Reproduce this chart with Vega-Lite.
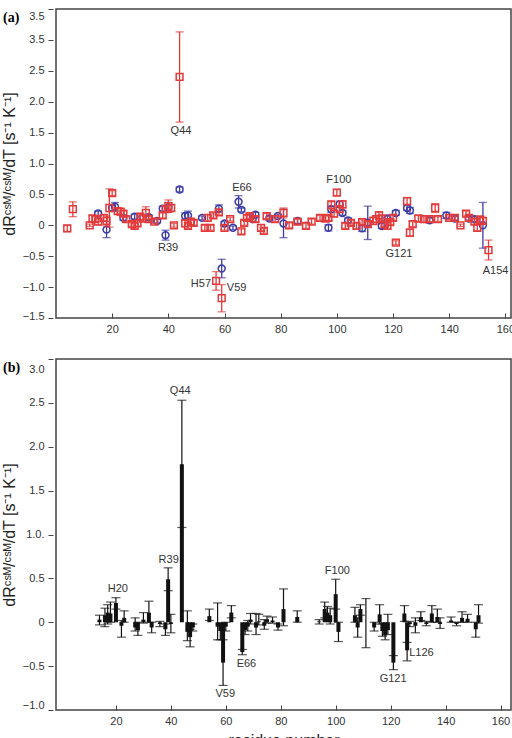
{
  "$schema": "https://vega.github.io/schema/vega-lite/v6.json",
  "autosize": {"type": "pad"},
  "padding": {"left": 0, "top": 7, "right": 4, "bottom": 0},
  "background": "white",
  "spacing": 41,
  "bounds": "flush",
  "config": {
    "view": {"stroke": "#444", "strokeWidth": 1.5},
    "font": "Liberation Sans",
    "axis": {
      "labelFont": "Liberation Sans",
      "labelFontSize": 11,
      "labelColor": "#333",
      "domain": false,
      "grid": false,
      "tickColor": "#444",
      "tickWidth": 1,
      "titleFont": "Liberation Sans",
      "titleFontWeight": "normal",
      "titleColor": "#222"
    },
    "text": {"font": "Liberation Sans", "fontSize": 11, "color": "#333", "baseline": "middle", "align": "center"}
  },
  "datasets": {
    "a_red": [
      {"residue": 4, "dR": -0.05, "err": 0.05},
      {"residue": 6, "dR": 0.26, "err": 0.12},
      {"residue": 12, "dR": 0.0, "err": 0.02},
      {"residue": 13, "dR": 0.11, "err": 0.05},
      {"residue": 14, "dR": 0.1, "err": 0.04},
      {"residue": 15, "dR": 0.06, "err": 0.05},
      {"residue": 17, "dR": 0.12, "err": 0.05},
      {"residue": 18, "dR": 0.07, "err": 0.08},
      {"residue": 19, "dR": 0.28, "err": 0.31},
      {"residue": 20, "dR": 0.52, "err": 0.04},
      {"residue": 22, "dR": 0.23, "err": 0.05},
      {"residue": 23, "dR": 0.22, "err": 0.05},
      {"residue": 24, "dR": 0.19, "err": 0.04},
      {"residue": 25, "dR": 0.1, "err": 0.04},
      {"residue": 27, "dR": 0.02, "err": 0.04},
      {"residue": 28, "dR": -0.01, "err": 0.04},
      {"residue": 29, "dR": 0.03, "err": 0.04},
      {"residue": 30, "dR": 0.14, "err": 0.05},
      {"residue": 31, "dR": 0.11, "err": 0.05},
      {"residue": 32, "dR": 0.2, "err": 0.1},
      {"residue": 33, "dR": 0.1, "err": 0.05},
      {"residue": 35, "dR": 0.06, "err": 0.03},
      {"residue": 38, "dR": 0.16, "err": 0.04},
      {"residue": 39, "dR": 0.26, "err": 0.05},
      {"residue": 40, "dR": 0.31, "err": 0.1},
      {"residue": 41, "dR": 0.28, "err": 0.05},
      {"residue": 42, "dR": 0.0, "err": 0.03},
      {"residue": 44, "dR": 2.4, "err": 0.73},
      {"residue": 46, "dR": 0.03, "err": 0.05},
      {"residue": 47, "dR": -0.01, "err": 0.04},
      {"residue": 48, "dR": 0.06, "err": 0.05},
      {"residue": 49, "dR": 0.04, "err": 0.04},
      {"residue": 53, "dR": -0.04, "err": 0.04},
      {"residue": 54, "dR": 0.12, "err": 0.05},
      {"residue": 55, "dR": -0.04, "err": 0.04},
      {"residue": 56, "dR": 0.16, "err": 0.04},
      {"residue": 57, "dR": -0.9, "err": 0.15},
      {"residue": 58, "dR": 0.21, "err": 0.04},
      {"residue": 59, "dR": -1.18, "err": 0.22},
      {"residue": 60, "dR": -0.04, "err": 0.04},
      {"residue": 62, "dR": 0.1, "err": 0.03},
      {"residue": 66, "dR": -0.1, "err": 0.04},
      {"residue": 67, "dR": 0.04, "err": 0.04},
      {"residue": 68, "dR": 0.12, "err": 0.04},
      {"residue": 69, "dR": 0.15, "err": 0.05},
      {"residue": 71, "dR": 0.1, "err": 0.04},
      {"residue": 73, "dR": -0.04, "err": 0.05},
      {"residue": 74, "dR": -0.09, "err": 0.04},
      {"residue": 75, "dR": 0.15, "err": 0.04},
      {"residue": 78, "dR": 0.1, "err": 0.04},
      {"residue": 81, "dR": 0.2, "err": 0.08},
      {"residue": 83, "dR": 0.0, "err": 0.04},
      {"residue": 86, "dR": 0.06, "err": 0.04},
      {"residue": 89, "dR": -0.01, "err": 0.04},
      {"residue": 91, "dR": 0.06, "err": 0.04},
      {"residue": 94, "dR": 0.12, "err": 0.04},
      {"residue": 96, "dR": 0.11, "err": 0.04},
      {"residue": 97, "dR": 0.12, "err": 0.04},
      {"residue": 98, "dR": 0.33, "err": 0.07},
      {"residue": 99, "dR": 0.19, "err": 0.05},
      {"residue": 100, "dR": 0.53, "err": 0.05},
      {"residue": 101, "dR": 0.26, "err": 0.05},
      {"residue": 102, "dR": 0.34, "err": 0.06},
      {"residue": 103, "dR": -0.01, "err": 0.04},
      {"residue": 105, "dR": 0.04, "err": 0.04},
      {"residue": 107, "dR": -0.01, "err": 0.04},
      {"residue": 109, "dR": 0.05, "err": 0.04},
      {"residue": 111, "dR": 0.02, "err": 0.04},
      {"residue": 113, "dR": 0.07, "err": 0.06},
      {"residue": 114, "dR": 0.1, "err": 0.05},
      {"residue": 115, "dR": 0.16, "err": 0.06},
      {"residue": 116, "dR": 0.11, "err": 0.05},
      {"residue": 117, "dR": 0.02, "err": 0.04},
      {"residue": 118, "dR": -0.01, "err": 0.05},
      {"residue": 119, "dR": 0.05, "err": 0.04},
      {"residue": 120, "dR": 0.12, "err": 0.04},
      {"residue": 121, "dR": -0.28, "err": 0.03},
      {"residue": 125, "dR": 0.39, "err": 0.06},
      {"residue": 126, "dR": -0.12, "err": 0.06},
      {"residue": 127, "dR": 0.02, "err": 0.04},
      {"residue": 129, "dR": 0.11, "err": 0.05},
      {"residue": 131, "dR": 0.1, "err": 0.05},
      {"residue": 133, "dR": 0.1, "err": 0.04},
      {"residue": 135, "dR": 0.28, "err": 0.07},
      {"residue": 136, "dR": 0.1, "err": 0.04},
      {"residue": 140, "dR": 0.12, "err": 0.03},
      {"residue": 142, "dR": 0.12, "err": 0.03},
      {"residue": 144, "dR": 0.0, "err": 0.02},
      {"residue": 146, "dR": 0.19, "err": 0.04},
      {"residue": 147, "dR": 0.12, "err": 0.04},
      {"residue": 149, "dR": 0.06, "err": 0.04},
      {"residue": 150, "dR": -0.04, "err": 0.05},
      {"residue": 151, "dR": 0.09, "err": 0.06},
      {"residue": 152, "dR": 0.07, "err": 0.05},
      {"residue": 154, "dR": -0.4, "err": 0.16}
    ],
    "a_blue": [
      {"residue": 15, "dR": 0.19, "err": 0.04},
      {"residue": 18, "dR": -0.07, "err": 0.13},
      {"residue": 20, "dR": 0.28, "err": 0.05},
      {"residue": 21, "dR": 0.3, "err": 0.07},
      {"residue": 24, "dR": 0.12, "err": 0.04},
      {"residue": 28, "dR": 0.14, "err": 0.04},
      {"residue": 33, "dR": 0.13, "err": 0.04},
      {"residue": 36, "dR": 0.07, "err": 0.03},
      {"residue": 38, "dR": 0.27, "err": 0.04},
      {"residue": 39, "dR": -0.16, "err": 0.08},
      {"residue": 40, "dR": 0.29, "err": 0.08},
      {"residue": 44, "dR": 0.58, "err": 0.04},
      {"residue": 46, "dR": 0.15, "err": 0.05},
      {"residue": 47, "dR": 0.16, "err": 0.07},
      {"residue": 52, "dR": 0.12, "err": 0.03},
      {"residue": 58, "dR": 0.27, "err": 0.06},
      {"residue": 59, "dR": -0.7, "err": 0.15},
      {"residue": 60, "dR": 0.03, "err": 0.03},
      {"residue": 63, "dR": -0.04, "err": 0.03},
      {"residue": 65, "dR": 0.38, "err": 0.1},
      {"residue": 66, "dR": 0.25, "err": 0.03},
      {"residue": 70, "dR": 0.1, "err": 0.04},
      {"residue": 71, "dR": 0.17, "err": 0.04},
      {"residue": 76, "dR": 0.11, "err": 0.03},
      {"residue": 79, "dR": 0.15, "err": 0.03},
      {"residue": 81, "dR": 0.03, "err": 0.23},
      {"residue": 86, "dR": 0.07, "err": 0.04},
      {"residue": 97, "dR": -0.04, "err": 0.05},
      {"residue": 98, "dR": 0.26, "err": 0.05},
      {"residue": 101, "dR": 0.34, "err": 0.05},
      {"residue": 102, "dR": 0.2, "err": 0.04},
      {"residue": 104, "dR": 0.08, "err": 0.04},
      {"residue": 109, "dR": -0.05, "err": 0.05},
      {"residue": 111, "dR": 0.04, "err": 0.27},
      {"residue": 116, "dR": -0.01, "err": 0.04},
      {"residue": 118, "dR": 0.11, "err": 0.04},
      {"residue": 121, "dR": 0.2, "err": 0.04},
      {"residue": 125, "dR": 0.28, "err": 0.04},
      {"residue": 126, "dR": 0.24, "err": 0.05},
      {"residue": 133, "dR": 0.08, "err": 0.04},
      {"residue": 139, "dR": 0.16, "err": 0.05},
      {"residue": 142, "dR": 0.11, "err": 0.03},
      {"residue": 147, "dR": 0.11, "err": 0.03},
      {"residue": 149, "dR": 0.1, "err": 0.04},
      {"residue": 152, "dR": 0.0, "err": 0.37}
    ],
    "a_labels": [
      {"residue": 44.5, "dR": 1.52, "label": "Q44"},
      {"residue": 39.9, "dR": -0.37, "label": "R39"},
      {"residue": 66.2, "dR": 0.61, "label": "E66"},
      {"residue": 51.6, "dR": -0.95, "label": "H57"},
      {"residue": 64.3, "dR": -1.01, "label": "V59"},
      {"residue": 100.7, "dR": 0.73, "label": "F100"},
      {"residue": 122.1, "dR": -0.47, "label": "G121"},
      {"residue": 156.5, "dR": -0.74, "label": "A154"}
    ],
    "b_bars": [
      {"residue": 14, "dR": 0.03, "lo": -0.03, "hi": 0.08},
      {"residue": 16, "dR": 0.08, "lo": -0.05, "hi": 0.16},
      {"residue": 17, "dR": 0.11, "lo": -0.02, "hi": 0.2},
      {"residue": 18, "dR": 0.1, "lo": 0.0, "hi": 0.23},
      {"residue": 20, "dR": 0.22, "lo": 0.15, "hi": 0.28},
      {"residue": 22, "dR": -0.04, "lo": -0.17, "hi": 0.02},
      {"residue": 23, "dR": 0.05, "lo": 0.0, "hi": 0.13},
      {"residue": 27, "dR": -0.06, "lo": -0.1, "hi": 0.05},
      {"residue": 28, "dR": -0.09, "lo": -0.15, "hi": 0.0},
      {"residue": 30, "dR": 0.03, "lo": -0.01, "hi": 0.11},
      {"residue": 32, "dR": 0.11, "lo": 0.0, "hi": 0.24},
      {"residue": 33, "dR": -0.06, "lo": -0.12, "hi": 0.0},
      {"residue": 36, "dR": -0.02, "lo": -0.05, "hi": 0.01},
      {"residue": 38, "dR": -0.08, "lo": -0.15, "hi": -0.02},
      {"residue": 39, "dR": 0.49, "lo": 0.36, "hi": 0.62},
      {"residue": 40, "dR": -0.02, "lo": -0.12, "hi": 0.09},
      {"residue": 44, "dR": 1.8, "lo": 1.08, "hi": 2.53},
      {"residue": 46, "dR": -0.11, "lo": -0.21, "hi": 0.13},
      {"residue": 47, "dR": -0.17, "lo": -0.28, "hi": -0.08},
      {"residue": 48, "dR": -0.06, "lo": -0.1, "hi": -0.02},
      {"residue": 54, "dR": 0.07, "lo": 0.02, "hi": 0.15},
      {"residue": 57, "dR": -0.05, "lo": -0.2, "hi": 0.22},
      {"residue": 58, "dR": -0.1, "lo": -0.2, "hi": -0.02},
      {"residue": 59, "dR": -0.46, "lo": -0.72, "hi": -0.2},
      {"residue": 60, "dR": -0.05, "lo": -0.1, "hi": 0.0},
      {"residue": 62, "dR": 0.11, "lo": 0.05, "hi": 0.19},
      {"residue": 66, "dR": -0.34, "lo": -0.37, "hi": -0.31},
      {"residue": 67, "dR": -0.09, "lo": -0.14, "hi": -0.03},
      {"residue": 68, "dR": -0.05, "lo": -0.1, "hi": 0.02},
      {"residue": 69, "dR": 0.03, "lo": -0.02, "hi": 0.1},
      {"residue": 71, "dR": -0.06, "lo": -0.14, "hi": 0.1},
      {"residue": 72, "dR": 0.01, "lo": -0.03, "hi": 0.09},
      {"residue": 74, "dR": -0.04, "lo": -0.08, "hi": 0.03},
      {"residue": 75, "dR": 0.03, "lo": -0.01, "hi": 0.07},
      {"residue": 77, "dR": 0.02, "lo": -0.01, "hi": 0.06},
      {"residue": 79, "dR": -0.06, "lo": -0.09, "hi": -0.02},
      {"residue": 81, "dR": 0.15, "lo": -0.04, "hi": 0.38},
      {"residue": 86, "dR": 0.06, "lo": 0.0, "hi": 0.13},
      {"residue": 94, "dR": 0.01, "lo": -0.02, "hi": 0.03},
      {"residue": 96, "dR": 0.15, "lo": 0.05, "hi": 0.23},
      {"residue": 97, "dR": 0.11, "lo": 0.02, "hi": 0.18},
      {"residue": 98, "dR": 0.08, "lo": -0.02, "hi": 0.16},
      {"residue": 100, "dR": 0.32, "lo": 0.15, "hi": 0.49},
      {"residue": 101, "dR": -0.11, "lo": -0.22, "hi": 0.0},
      {"residue": 107, "dR": 0.08, "lo": 0.0, "hi": 0.17},
      {"residue": 108, "dR": -0.06, "lo": -0.17, "hi": 0.05},
      {"residue": 109, "dR": 0.15, "lo": 0.08, "hi": 0.2},
      {"residue": 111, "dR": 0.0, "lo": -0.29, "hi": 0.27},
      {"residue": 114, "dR": -0.06, "lo": -0.1, "hi": 0.0},
      {"residue": 116, "dR": 0.09, "lo": -0.02, "hi": 0.2},
      {"residue": 117, "dR": -0.1, "lo": -0.16, "hi": -0.02},
      {"residue": 118, "dR": -0.15, "lo": -0.2, "hi": -0.06},
      {"residue": 119, "dR": -0.09, "lo": -0.14, "hi": 0.09},
      {"residue": 121, "dR": -0.46, "lo": -0.54, "hi": -0.38},
      {"residue": 125, "dR": 0.1, "lo": 0.01, "hi": 0.19},
      {"residue": 126, "dR": -0.32, "lo": -0.44, "hi": -0.23},
      {"residue": 127, "dR": -0.02, "lo": -0.05, "hi": 0.01},
      {"residue": 129, "dR": -0.04, "lo": -0.12, "hi": 0.05},
      {"residue": 131, "dR": 0.06, "lo": 0.02, "hi": 0.12},
      {"residue": 133, "dR": -0.02, "lo": -0.04, "hi": 0.01},
      {"residue": 135, "dR": 0.1, "lo": 0.0, "hi": 0.19},
      {"residue": 137, "dR": 0.06, "lo": 0.0, "hi": 0.15},
      {"residue": 138, "dR": -0.02, "lo": -0.07, "hi": 0.05},
      {"residue": 142, "dR": 0.02, "lo": 0.0, "hi": 0.06},
      {"residue": 144, "dR": -0.02, "lo": -0.04, "hi": 0.0},
      {"residue": 146, "dR": 0.05, "lo": 0.0, "hi": 0.12},
      {"residue": 148, "dR": 0.04, "lo": 0.0, "hi": 0.09},
      {"residue": 151, "dR": -0.08, "lo": -0.17, "hi": 0.0},
      {"residue": 152, "dR": 0.08, "lo": -0.01, "hi": 0.2}
    ],
    "b_labels": [
      {"residue": 43.4, "dR": 2.63, "label": "Q44"},
      {"residue": 39.2, "dR": 0.71, "label": "R39"},
      {"residue": 20.7, "dR": 0.38, "label": "H20"},
      {"residue": 67.5, "dR": -0.48, "label": "E66"},
      {"residue": 59.8, "dR": -0.82, "label": "V59"},
      {"residue": 100.6, "dR": 0.58, "label": "F100"},
      {"residue": 120.9, "dR": -0.65, "label": "G121"},
      {"residue": 131.2, "dR": -0.35, "label": "L126"}
    ]
  },
  "vconcat": [
    {
      "width": 455,
      "height": 309,
      "title": {"text": "(a)", "anchor": "start", "frame": "group", "orient": "top", "font": "Liberation Serif", "fontSize": 14, "fontWeight": "bold", "color": "#000", "offset": -16, "dx": -53},
      "encoding": {
        "x": {
          "field": "residue", "type": "quantitative",
          "scale": {"domain": [0, 162], "nice": false, "zero": false},
          "axis": {"values": [20, 40, 60, 80, 100, 120, 140, 160], "title": null, "tickSize": -5, "labelPadding": 10}
        },
        "y": {
          "field": "dR", "type": "quantitative",
          "scale": {"domain": [-1.5, 3.5], "nice": false, "zero": false},
          "axis": {
            "values": [-1.5, -1, -0.5, 0, 0.5, 1, 1.5, 2, 2.5, 3, 3.5],
            "labelExpr": "datum.value == 3 ? '3.5' : datum.value == 0 ? '0' : format(datum.value, '.1f')",
            "labelOffset": {"condition": [{"test": "datum.value == 3.5", "value": 7}, {"test": "datum.value == -1.5", "value": -2}], "value": 0},
            "offset": 3, "tickSize": 5, "labelPadding": 4,
            "title": "dRᶜˢᴹ/ᶜˢᴹ/dT    [s⁻¹ K⁻¹]", "titleFontSize": 16, "titlePadding": 5
          }
        }
      },
      "layer": [
        {
          "mark": {"type": "rule", "strokeDash": [6, 4], "color": "#111", "strokeWidth": 1.3},
          "encoding": {"x": {"datum": 1, "type": "quantitative"}, "x2": {"datum": 156}, "y": {"datum": 0, "type": "quantitative"}}
        },
        {
          "data": {"name": "a_blue"},
          "mark": {"type": "errorbar", "ticks": true, "color": "#3b3ba6", "thickness": 1.3, "size": 8},
          "encoding": {"yError": {"field": "err"}}
        },
        {
          "data": {"name": "a_blue"},
          "mark": {"type": "point", "shape": "circle", "filled": false, "color": "#3b3ba6", "size": 48, "strokeWidth": 1.5, "opacity": 1}
        },
        {
          "data": {"name": "a_red"},
          "mark": {"type": "errorbar", "ticks": true, "color": "#e23a3a", "thickness": 1.3, "size": 8},
          "encoding": {"yError": {"field": "err"}}
        },
        {
          "data": {"name": "a_red"},
          "mark": {"type": "point", "shape": "square", "filled": false, "color": "#e23a3a", "size": 46, "strokeWidth": 1.5, "opacity": 1}
        },
        {
          "data": {"name": "a_labels"},
          "mark": {"type": "text"},
          "encoding": {"text": {"field": "label"}}
        }
      ]
    },
    {
      "width": 455,
      "height": 351,
      "title": {"text": "(b)", "anchor": "start", "frame": "group", "orient": "top", "font": "Liberation Serif", "fontSize": 14, "fontWeight": "bold", "color": "#000", "offset": -16, "dx": -53},
      "encoding": {
        "x": {
          "field": "residue", "type": "quantitative",
          "scale": {"domain": [0, 162], "nice": false, "zero": false},
          "axis": {"values": [20, 40, 60, 80, 100, 120, 140, 160], "title": "residue number", "titleFontSize": 16, "titlePadding": 6, "tickSize": -5, "labelPadding": 10}
        },
        "y": {
          "field": "dR", "type": "quantitative",
          "scale": {"domain": [-1, 3], "nice": false, "zero": false},
          "axis": {
            "values": [-1, -0.5, 0, 0.5, 1, 1.5, 2, 2.5, 3],
            "labelExpr": "datum.value == 1 ? '1.0.' : datum.value == 0 ? '0' : format(datum.value, '.1f')",
            "labelOffset": {"condition": [{"test": "datum.value == 3", "value": 10}, {"test": "datum.value == -1", "value": -5}], "value": 0},
            "offset": 3, "tickSize": 5, "labelPadding": 4,
            "title": "dRᶜˢᴹ/ᶜˢᴹ/dT    [s⁻¹ K⁻¹]", "titleFontSize": 16, "titlePadding": 5
          }
        }
      },
      "layer": [
        {
          "mark": {"type": "rule", "strokeDash": [6, 4], "color": "#111", "strokeWidth": 1.3},
          "encoding": {"x": {"datum": 3.5, "type": "quantitative"}, "x2": {"datum": 161}, "y": {"datum": 0, "type": "quantitative"}}
        },
        {
          "data": {"name": "b_bars"},
          "mark": {"type": "errorbar", "ticks": true, "color": "#111", "thickness": 1.2, "size": 9},
          "encoding": {"y": {"field": "lo", "type": "quantitative"}, "y2": {"field": "hi"}}
        },
        {
          "data": {"name": "b_bars"},
          "mark": {"type": "bar", "width": 4, "color": "#111"},
          "encoding": {"y2": {"datum": 0}}
        },
        {
          "data": {"name": "b_labels"},
          "mark": {"type": "text"},
          "encoding": {"text": {"field": "label"}}
        }
      ]
    }
  ]
}
